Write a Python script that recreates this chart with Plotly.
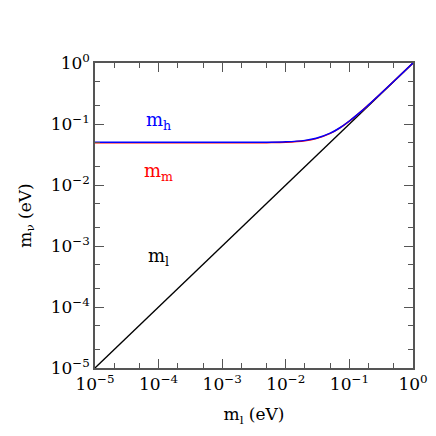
import plotly.graph_objects as go

# lightest mass m_l (eV) and masses
m_light = [1e-5, 1e0]
m_diag = [1e-5, 1e0]

m_l_curve = [1e-5, 1e-4, 1e-3, 5e-3, 1e-2, 2e-2, 3e-2, 5e-2, 7e-2, 0.1, 0.15, 0.2, 0.3, 0.5, 1.0]
m_h = [0.0500, 0.0500, 0.0500, 0.0502, 0.0510, 0.0539, 0.0583, 0.0707, 0.0860, 0.112, 0.158, 0.206, 0.304, 0.5025, 1.0012]
m_m = [0.0492, 0.0492, 0.0492, 0.0495, 0.0502, 0.0531, 0.0576, 0.0701, 0.0855, 0.1115, 0.1578, 0.2058, 0.3039, 0.5024, 1.0012]

tick_vals = [1e-5, 1e-4, 1e-3, 1e-2, 1e-1, 1e0]
tick_text = ["10<sup>\u22125</sup>", "10<sup>\u22124</sup>", "10<sup>\u22123</sup>",
             "10<sup>\u22122</sup>", "10<sup>\u22121</sup>", "10<sup>0</sup>"]

font = "DejaVu Serif"

fig = go.Figure()
fig.add_trace(go.Scatter(x=m_light, y=m_diag, mode="lines",
                         line=dict(color="black", width=1.3)))
fig.add_trace(go.Scatter(x=m_l_curve, y=m_m, mode="lines",
                         line=dict(color="red", width=1.5, shape="spline")))
fig.add_trace(go.Scatter(x=m_l_curve, y=m_h, mode="lines",
                         line=dict(color="blue", width=1.5, shape="spline")))

labels = [("m<sub>h</sub>", "blue", -0.95), ("m<sub>m</sub>", "red", -1.79),
          ("m<sub>l</sub>", "black", -3.18)]
for txt, col, ly in labels:
    fig.add_annotation(x=-4.0, y=ly, text=txt, showarrow=False,
                       font=dict(color=col, size=18, family=font))

axis = dict(type="log", range=[-5, 0], tickvals=tick_vals, ticktext=tick_text,
            ticks="inside", ticklen=9, tickcolor="#555", mirror="ticks",
            showline=True, linecolor="#555", linewidth=1.5, showgrid=False,
            zeroline=False, automargin=False,
            tickfont=dict(size=17, family=font, color="black"),
            minor=dict(ticks="inside", ticklen=5, tickcolor="#555", showgrid=False))

# page body adds an 8px offset, so the figure is 428 px and margins are shifted
fig.update_layout(
    width=428, height=428,
    margin=dict(l=87, r=23, t=55, b=68),
    plot_bgcolor="white", paper_bgcolor="white",
    font=dict(family=font, color="black"),
    showlegend=False,
    xaxis=dict(axis, title=dict(text="m<sub>l</sub> (eV)", font=dict(size=17, family=font, color="black"))),
    yaxis=dict(axis, title=dict(text="m<sub>\u03bd</sub> (eV)", font=dict(size=17, family=font, color="black"))),
)

fig.write_html("out.html")
